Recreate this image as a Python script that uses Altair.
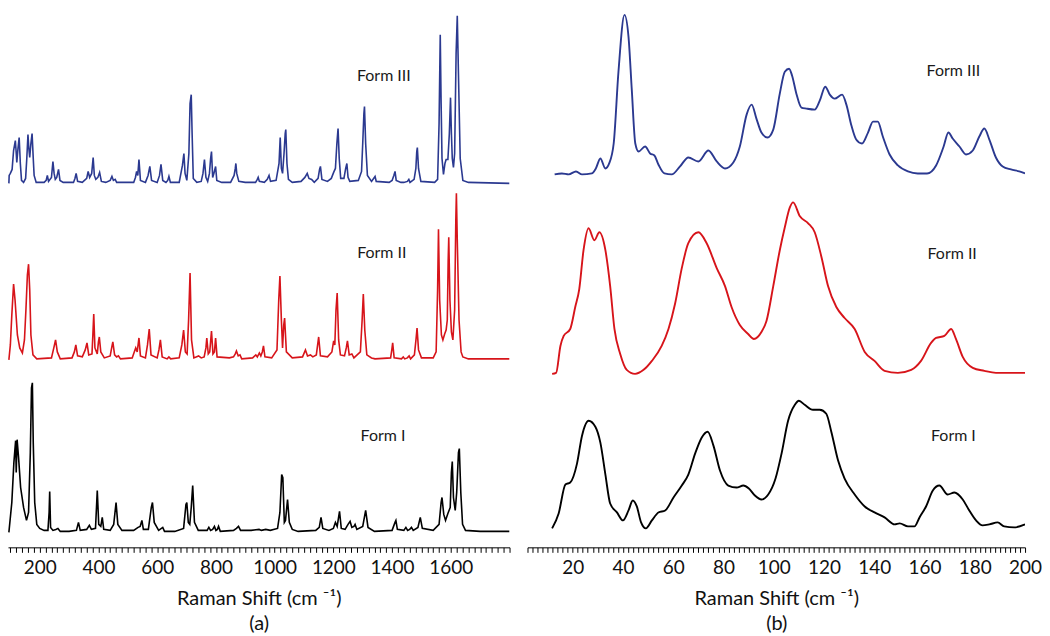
import altair as alt
import pandas as pd

FORMS = ["Form I", "Form II", "Form III"]
COLORS = ["#000000", "#d7141a", "#2b3990"]

# ---- Panel (a): mid-IR Raman spectra (shift cm-1, relative intensity) ----
A_FORM_I = [(95,0),(105,30),(112,70),(118,92),(120,60),(123,93),(128,75),(135,45),(145,25),(155,12),(162,20),(168,80),(172,145),(175,150),(178,90),(183,30),(190,8),(200,4),(215,2),(228,2),(232,20),(234,41),(237,5),(245,2),(255,3),(262,4),(270,1),(300,1),(325,2),(332,10),(338,2),(360,3),(369,7),(376,3),(390,4),(396,42),(401,8),(408,6),(413,15),(418,3),(440,2),(452,8),(460,30),(466,8),(480,2),(520,2),(535,5),(542,6),(548,12),(553,3),(570,3),(580,25),(584,30),(590,10),(605,2),(619,5),(625,1),(660,1),(690,4),(698,28),(701,30),(706,10),(711,8),(716,25),(721,47),(727,10),(740,2),(770,2),(776,5),(782,2),(789,3),(795,6),(800,2),(805,3),(809,6),(815,1),(860,2),(870,4),(877,6),(884,2),(920,2),(947,3),(955,2),(970,3),(985,2),(1010,4),(1018,20),(1024,58),(1028,55),(1033,10),(1037,12),(1044,33),(1050,10),(1060,3),(1080,1),(1140,2),(1152,5),(1158,15),(1164,4),(1185,2),(1200,4),(1207,10),(1213,6),(1221,21),(1227,4),(1240,3),(1250,8),(1257,11),(1263,5),(1270,6),(1274,8),(1280,3),(1300,6),(1310,22),(1318,5),(1340,1),(1400,2),(1410,10),(1413,12),(1418,3),(1440,2),(1447,5),(1453,2),(1460,3),(1466,5),(1472,2),(1488,5),(1496,15),(1503,4),(1540,2),(1560,8),(1567,30),(1570,35),(1576,18),(1582,12),(1590,19),(1598,25),(1602,60),(1605,71),(1609,35),(1615,22),(1620,40),(1626,80),(1629,84),(1634,40),(1640,8),(1650,2),(1700,1),(1800,1)]

A_FORM_II = [(95,0),(100,15),(105,45),(111,76),(116,60),(124,25),(132,12),(141,7),(148,20),(153,50),(158,85),(162,96),(166,70),(170,25),(177,5),(190,1),(240,2),(248,12),(254,20),(260,8),(270,1),(310,2),(318,8),(323,15),(329,4),(345,3),(355,10),(361,17),(367,5),(378,6),(381,25),(384,46),(388,12),(396,6),(400,18),(403,23),(408,8),(420,2),(440,4),(445,12),(449,18),(455,5),(462,3),(468,4),(475,1),(515,2),(522,8),(527,12),(532,8),(538,22),(543,4),(560,2),(567,15),(573,31),(579,5),(600,2),(606,10),(611,20),(617,3),(634,1),(640,3),(646,1),(675,2),(684,15),(690,30),(696,8),(702,6),(707,40),(712,87),(717,20),(725,2),(741,4),(750,2),(760,3),(766,12),(769,22),(774,6),(779,8),(783,22),(785,29),(790,6),(795,8),(799,22),(804,3),(846,2),(860,3),(866,6),(870,9),(876,4),(882,5),(888,1),(925,2),(936,5),(941,3),(948,7),(953,4),(958,8),(962,14),(967,3),(990,2),(1008,10),(1014,60),(1018,84),(1023,40),(1027,12),(1031,35),(1034,42),(1040,8),(1060,2),(1095,3),(1105,10),(1112,4),(1122,5),(1130,3),(1142,5),(1150,23),(1156,4),(1180,3),(1195,8),(1201,19),(1205,15),(1209,50),(1213,67),(1218,20),(1224,5),(1238,4),(1244,12),(1248,19),(1254,5),(1263,6),(1270,2),(1292,8),(1298,40),(1302,66),(1307,30),(1314,5),(1330,2),(1342,1),(1395,2),(1399,10),(1402,17),(1407,2),(1432,1),(1438,3),(1443,1),(1452,2),(1458,4),(1463,1),(1476,5),(1482,22),(1485,32),(1490,10),(1500,2),(1540,2),(1550,8),(1555,70),(1558,131),(1562,60),(1568,25),(1573,20),(1579,26),(1584,30),(1588,40),(1591,100),(1593,123),(1597,60),(1602,28),(1607,20),(1613,50),(1617,140),(1619,167),(1622,120),(1628,40),(1635,8),(1641,3),(1660,1),(1800,1)]

A_FORM_III = [(95,0),(96,8),(100,10),(106,14),(111,33),(117,43),(119,35),(122,21),(126,35),(130,46),(134,20),(138,3),(145,1),(152,5),(156,25),(160,49),(163,35),(166,26),(170,40),(174,50),(178,25),(181,8),(188,1),(215,1),(222,3),(226,8),(230,2),(240,6),(245,22),(249,10),(253,4),(258,6),(264,14),(269,3),(280,1),(315,1),(320,5),(324,10),(329,2),(345,1),(360,5),(365,12),(370,6),(377,10),(382,26),(386,8),(391,4),(398,6),(404,11),(410,2),(425,1),(440,3),(446,7),(451,3),(457,4),(462,1),(520,1),(526,6),(530,12),(534,8),(538,24),(543,3),(560,1),(569,8),(575,17),(581,3),(600,1),(608,8),(613,19),(619,3),(630,1),(636,3),(640,7),(645,1),(675,1),(686,18),(691,30),(695,10),(701,3),(708,30),(712,80),(716,89),(719,50),(723,5),(735,1),(750,2),(756,10),(761,24),(766,6),(772,2),(778,10),(782,25),(785,32),(789,6),(793,10),(799,17),(803,3),(820,1),(850,1),(862,8),(866,15),(868,20),(871,10),(878,2),(900,1),(935,1),(941,4),(944,6),(948,2),(965,1),(975,4),(981,8),(986,2),(1005,3),(1015,20),(1019,46),(1023,15),(1027,10),(1032,30),(1036,50),(1038,54),(1042,20),(1047,4),(1060,1),(1090,2),(1103,6),(1111,10),(1117,5),(1126,4),(1135,1),(1148,5),(1153,14),(1156,17),(1161,4),(1180,2),(1193,5),(1201,11),(1207,15),(1212,40),(1216,55),(1220,25),(1225,5),(1236,5),(1242,15),(1246,20),(1250,6),(1256,2),(1285,3),(1296,12),(1300,40),(1304,70),(1306,77),(1310,40),(1316,8),(1330,2),(1342,7),(1346,2),(1390,1),(1400,3),(1406,8),(1410,12),(1414,3),(1430,1),(1440,1),(1452,2),(1457,4),(1461,1),(1475,4),(1481,15),(1484,32),(1486,36),(1490,15),(1498,2),(1545,1),(1555,4),(1560,60),(1564,149),(1567,80),(1570,25),(1575,9),(1580,20),(1584,24),(1590,24),(1595,50),(1599,86),(1602,50),(1605,25),(1609,16),(1613,30),(1618,130),(1622,168),(1626,110),(1632,25),(1641,3),(1660,1),(1800,0)]

# ---- Panel (b): low-frequency Raman spectra ----
B_FORM_I = [(11.8,1),(14.4,16),(17.1,45),(19,47),(21.7,66),(23.7,94),(26.3,109),(29,103),(31,87),(33,55),(34.9,26),(37.6,17),(40,9),(42.2,19),(43.9,29),(45.5,23),(47.2,7),(49.1,1),(51.5,9),(54.1,17),(56.8,19),(60.1,32),(63.4,44),(66,55),(68.7,76),(71.3,92),(73.7,98),(76,84),(78.6,59),(81.9,44),(85.2,42),(87.9,44),(90.1,41),(92.5,34),(95.1,30),(97.8,35),(100.7,51),(103.1,76),(105.7,109),(108.4,125),(110,129),(112.3,125),(115.6,120),(118.3,120),(120.9,116),(122.9,98),(125.6,69),(128.2,51),(132.2,35),(136.2,23),(140.1,17),(144.1,12),(148.1,5),(150.1,6),(153.4,3),(156,3),(158,12),(160.6,23),(163.3,39),(165.9,44),(169.2,35),(171.9,37),(175.2,30),(177.8,19),(180.5,9),(183.1,4),(185.8,5),(189.1,7),(191.7,3),(195.7,2),(200,5)]

B_FORM_II = [(11.8,1),(13.4,2),(15.1,29),(16.4,39),(19,46),(21,68),(22.6,86),(24.3,125),(26.3,147),(28.6,135),(30.6,143),(33,125),(34.9,89),(36.6,46),(38.9,21),(41.5,5),(44.8,1),(48.2,5),(51.5,14),(55.4,29),(58.1,46),(60.7,71),(63.4,107),(66,132),(70,143),(73.3,132),(77.3,107),(80.6,89),(83.2,68),(86.5,50),(89.8,41),(92.1,36),(95.1,43),(97.1,54),(99.8,89),(102.4,125),(104.4,148),(106.4,168),(107.7,173),(110.4,159),(113.7,152),(116.3,143),(119,118),(121.6,89),(124.9,68),(128.2,57),(132.2,46),(136.2,23),(140.1,14),(144.1,4),(149.4,2),(154.7,5),(158.6,14),(162.6,32),(164.6,37),(167.9,39),(170.6,46),(172.5,36),(175.2,18),(179.2,7),(183.8,4),(188.4,2),(191.7,2),(197,2),(200,2)]

B_FORM_III = [(12.8,1),(15.7,2),(18.4,1),(21.3,4),(23.7,1),(27.6,2),(29.2,7),(31,17),(33,7),(34.5,12),(36.3,32),(38.2,104),(40.6,161),(42.2,139),(43.5,86),(44.9,32),(46.2,24),(48.8,29),(50.8,22),(52.5,20),(54.1,11),(56.5,2),(59.4,1),(62.7,9),(66,18),(70,14),(74,25),(77.3,14),(80.6,7),(83.9,13),(86.5,29),(89.2,61),(91.2,71),(93.1,57),(95.1,43),(97.5,38),(99.8,46),(102.4,82),(104.4,104),(106.1,107),(107.3,100),(109,82),(111,68),(113,67),(116.3,66),(118.3,75),(120.5,89),(122.3,81),(124.2,77),(127.2,81),(128.9,71),(130.9,50),(132.8,36),(135.1,32),(137.5,43),(139.5,54),(141.4,54),(143.4,39),(146.1,21),(149.4,10),(153.4,4),(157.3,2),(161,2),(164.6,10),(167.6,29),(169.5,43),(171.2,37),(173.9,29),(176.5,21),(179.2,25),(181.8,39),(183.8,47),(185.8,36),(188.4,18),(191.1,9),(194.4,6),(197.7,4),(200,2)]

A_TICKS = list(range(100, 1801, 20))
A_LABELS = [200, 400, 600, 800, 1000, 1200, 1400, 1600]
B_TICKS = list(range(2, 201, 2))
B_LABELS = [20, 40, 60, 80, 100, 120, 140, 160, 180, 200]
AXIS_TITLE = "Raman Shift (cm \u207b\u00b9)"

# ---- layout constants (vertical stacking offsets, label anchors) ----
A_OFFSET = {"Form I": 15, "Form II": 188, "Form III": 365}
B_OFFSET = {"Form I": 18, "Form II": 173, "Form III": 373}
A_LABEL_AT = {"Form I": (1369, 112), "Form II": (1365, 295), "Form III": (1372, 473)}
B_LABEL_AT = {"Form I": (171.5, 112), "Form II": (171.0, 294), "Form III": (171.5, 478)}


def spectra_frame(series, offsets):
    rows = []
    for form, pts in series.items():
        for i, (x, y) in enumerate(pts):
            rows.append({"form": form, "shift": x, "y": y + offsets[form], "i": i})
    return pd.DataFrame(rows)


def label_frame(anchors):
    return pd.DataFrame([{"form": f, "shift": anchors[f][0], "y": anchors[f][1]} for f in FORMS])


color = alt.Color("form:N", scale=alt.Scale(domain=FORMS, range=COLORS), legend=None)
yenc = alt.Y("y:Q", scale=alt.Scale(domain=[0, 540], nice=False, zero=False), axis=None)


def panel(df, lab, domain, ticks, labels, sub, width, stroke, interp):
    label_test = ("indexof([" + ",".join(str(v) for v in labels) +
                  "], round(datum.value)) >= 0 ? '' + round(datum.value) : ''")
    axis = alt.Axis(values=ticks, labelExpr=label_test,
                    labelOverlap=False, labelFlush=False,
                    title=[AXIS_TITLE, sub], grid=False)
    x = alt.X("shift:Q", scale=alt.Scale(domain=domain, nice=False, zero=False), axis=axis)
    lines = alt.Chart(df).mark_line(strokeWidth=stroke, interpolate=interp, clip=True).encode(
        x=x, y=yenc, color=color, order="i:Q", detail="form:N")
    text = alt.Chart(lab).mark_text(font="Lato", fontSize=16, color="#1a1a1a",
                                    align="center", baseline="middle").encode(
        x=x, y=yenc, text="form:N")
    return alt.layer(lines, text).properties(width=width, height=540)


df_a = spectra_frame({"Form I": A_FORM_I, "Form II": A_FORM_II, "Form III": A_FORM_III}, A_OFFSET)
df_b = spectra_frame({"Form I": B_FORM_I, "Form II": B_FORM_II, "Form III": B_FORM_III}, B_OFFSET)

pa = panel(df_a, label_frame(A_LABEL_AT), [92, 1800], A_TICKS, A_LABELS, "(a)", 503, 1.6, "linear")
pb = panel(df_b, label_frame(B_LABEL_AT), [2, 200], B_TICKS, B_LABELS, "(b)", 499, 1.9, "monotone")

chart = alt.hconcat(pa, pb, spacing=16).properties(
    padding={"left": 0, "top": 0, "right": 0, "bottom": 0}, background="white"
).configure_view(stroke=None).configure_axis(
    labelFont="Lato", labelFontSize=19, labelColor="#111", labelPadding=6,
    titleFont="Lato", titleFontSize=20, titleFontWeight="normal", titleColor="#111",
    titleLineHeight=25, titlePadding=11,
    domainColor="#000", domainWidth=1, tickColor="#000", tickSize=5, tickWidth=1,
)

chart.save("out.html", embed_options={"renderer": "svg", "actions": False})
